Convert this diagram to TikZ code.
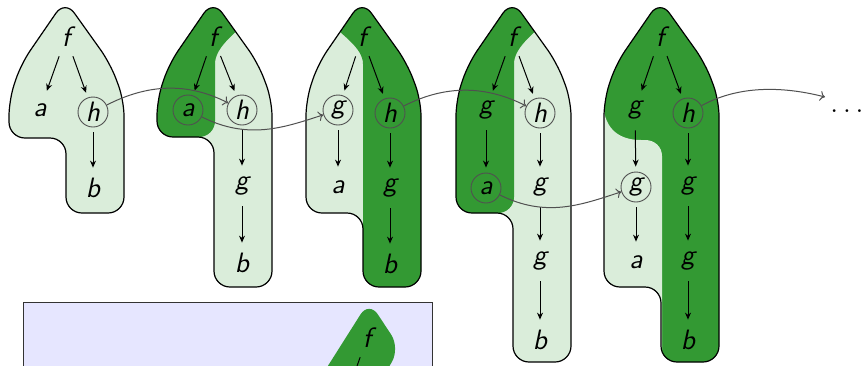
\documentclass[tikz,border=0pt]{standalone}
\usetikzlibrary{arrows.meta}
\definecolor{cdark}{HTML}{339933}
\definecolor{clight}{HTML}{DAEDDA}
\definecolor{cbox}{HTML}{E6E6FF}
\definecolor{cgrey}{HTML}{505050}
% outline of one tree: peak at x=#1, left lobe down to #2, stem down to #3
\newcommand{\hullpath}[3]{(#1,0) -- (#1+45,63) -- (#1+59,100) -- (#1+59,#3) -- (#1+1,#3) -- (#1+1,#2) -- (#1-56,#2) -- (#1-56,100) -- (#1-44,64) -- cycle}
\newcommand{\darkleft}[2]{(#1-90,-20) -- (#1+45,-20) -- (#1+45,10) .. controls (#1+20,35) and (#1+2,48) .. (#1+2,80) -- (#1+2,#2) -- (#1-90,#2) -- cycle}
\newcommand{\darkright}[1]{(#1+90,-20) -- (#1-45,-20) -- (#1-45,10) .. controls (#1-20,35) and (#1+1,48) .. (#1+1,80) -- (#1+1,400) -- (#1+90,400) -- cycle}
\tikzset{
  hull/.style={rounded corners=8pt},
  rim/.style={hull, draw=black, line width=0.6pt},
  lbl/.style={circle, inner sep=0pt, minimum size=15pt, font=\fontsize{14}{16}\selectfont\sffamily\itshape},
  ring/.style={lbl, draw=cgrey, line width=0.45pt},
  edge/.style={-{Stealth[length=3.5pt, width=3pt]}, line width=0.5pt, shorten <=2.5pt, shorten >=2.5pt},
  jump/.style={-{To[length=2.5pt, width=5pt]}, draw=cgrey, line width=0.5pt},
  panel/.style={draw=black!80, fill=cbox, line width=0.5pt},
}

\begin{document}
\begin{tikzpicture}[x=0.5pt, y=-0.5pt]
  \path[use as bounding box] (0,0) rectangle (862,365);
  \clip (0,0) rectangle (862,365);
  % light hulls
  \foreach \fx/\lb/\sb in {65/138/213, 213/137/287, 362/213/287, 512/213/362, 660/287/362}
    \fill[clight, hull] \hullpath{\fx}{\lb}{\sb};
  % dark parts
  \begin{scope}
    \clip[hull] \hullpath{213}{137}{287};
    \fill[cdark, hull] \darkleft{213}{137};
  \end{scope}
  \begin{scope}
    \clip[hull] \hullpath{362}{213}{287};
    \fill[cdark, hull] \darkright{362};
  \end{scope}
  \begin{scope}
    \clip[hull] \hullpath{512}{213}{362};
    \fill[cdark, hull] \darkleft{512}{213};
  \end{scope}
  \begin{scope}
    \clip[hull] \hullpath{660}{287}{362};
    \fill[cdark] (590,-10) rectangle (730,380);
    \fill[clight] (603,400) -- (603,100) .. controls (603,126) and (616,140) .. (641,140) -- (645,140)
      .. controls (655,140) and (662,147) .. (662,156) -- (662,400) -- cycle;
  \end{scope}
  \foreach \fx/\lb/\sb in {65/138/213, 213/137/287, 362/213/287, 512/213/362, 660/287/362}
    \draw[rim] \hullpath{\fx}{\lb}{\sb};
  % tree 1
  \node[lbl]  (af) at (66,37) {f};
  \node[lbl]  (aa) at (40,110) {a};
  \node[ring] (ah) at (93,112) {h};
  \node[lbl]  (ab) at (93,188) {b};
  \foreach \u/\v in {af/aa, af/ah, ah/ab} \draw[edge] (\u) -- (\v);
  % tree 2
  \node[lbl]  (bf) at (213,37) {f};
  \node[ring] (ba) at (188,110) {a};
  \node[ring] (bh) at (242,110) {h};
  \node[lbl]  (bg) at (242,186) {g};
  \node[lbl]  (bb) at (242,263) {b};
  \foreach \u/\v in {bf/ba, bf/bh, bh/bg, bg/bb} \draw[edge] (\u) -- (\v);
  % tree 3
  \node[lbl]  (cf) at (362,37) {f};
  \node[ring] (cg) at (338,110) {g};
  \node[ring] (ch) at (390,113) {h};
  \node[lbl]  (ca) at (338,187) {a};
  \node[lbl]  (cg2) at (390,188) {g};
  \node[lbl]  (cb) at (390,264) {b};
  \foreach \u/\v in {cf/cg, cf/ch, cg/ca, ch/cg2, cg2/cb} \draw[edge] (\u) -- (\v);
  % tree 4
  \node[lbl]  (df) at (512,37) {f};
  \node[lbl]  (dg) at (486,110) {g};
  \node[ring] (dh) at (540,113) {h};
  \node[ring] (da) at (486,188) {a};
  \node[lbl]  (dg2) at (540,187) {g};
  \node[lbl]  (dg3) at (540,261) {g};
  \node[lbl]  (db) at (540,340) {b};
  \foreach \u/\v in {df/dg, df/dh, dg/da, dh/dg2, dg2/dg3, dg3/db} \draw[edge] (\u) -- (\v);
  % tree 5
  \node[lbl]  (ef) at (660,37) {f};
  \node[lbl]  (eg) at (635,110) {g};
  \node[ring] (eh) at (688,113) {h};
  \node[ring] (eg2) at (636,187) {g};
  \node[lbl]  (ea) at (636,262) {a};
  \node[lbl]  (eg3) at (688,186) {g};
  \node[lbl]  (eg4) at (688,261) {g};
  \node[lbl]  (eb) at (688,340) {b};
  \foreach \u/\v in {ef/eg, ef/eh, eg/eg2, eg2/ea, eh/eg3, eg3/eg4, eg4/eb} \draw[edge] (\u) -- (\v);
  % steps between trees
  \node[font=\fontsize{14}{16}\selectfont, inner sep=0pt] (dots) at (847,111) {$\ldots$};
  \coordinate (more) at (825,97);
  \draw[jump] (ah) .. controls +(55,-28) and +(-55,-28) .. (bh);
  \draw[jump] (ba) .. controls +(60,30) and +(-55,18) .. (cg);
  \draw[jump] (ch) .. controls +(55,-28) and +(-55,-28) .. (dh);
  \draw[jump] (da) .. controls +(60,30) and +(-55,18) .. (eg2);
  \draw[jump] (eh) .. controls +(55,-30) and +(-35,-9) .. (more);
  % lower panel
  \draw[panel] (23,302) rectangle (432,380);
  \fill[cdark, hull] (369,301) -- (400,348) -- (372,396) -- (300,410) -- cycle;
  \node[lbl] (pf) at (367,338) {f};
  \coordinate (pl) at (341,411);
  \draw[edge] (pf) -- (pl);
\end{tikzpicture}
\end{document}
